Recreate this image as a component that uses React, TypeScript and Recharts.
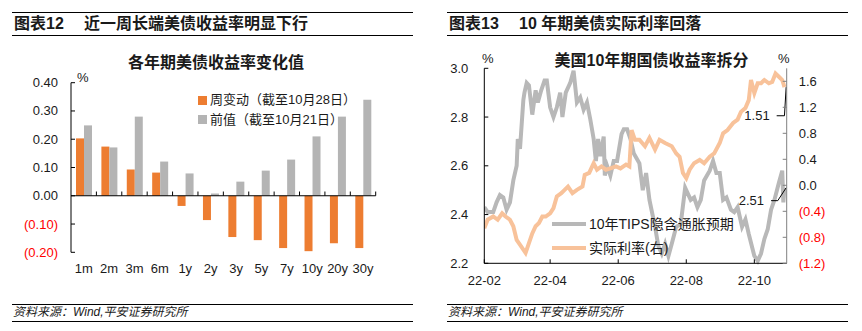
import React from "react";
import { Bar, BarChart, Line, LineChart, ReferenceLine, XAxis, YAxis } from "recharts";

const FONT = "'Liberation Sans', Arial, 'Noto Sans CJK SC', sans-serif";
const TEXT = "#1a1a1a";
const RED = "#FF0000";

// 图表12
const tenors = ["1m", "2m", "3m", "6m", "1y", "2y", "3y", "5y", "7y", "10y", "20y", "30y"];
const weeklyChange = [0.203, 0.174, 0.093, 0.082, -0.036, -0.086, -0.146, -0.157, -0.185, -0.196, -0.168, -0.185];
const priorValue = [0.249, 0.171, 0.28, 0.121, 0.079, 0.008, 0.05, 0.089, 0.128, 0.21, 0.28, 0.34];
const barTicks = [-0.2, -0.1, 0, 0.1, 0.2, 0.3, 0.4];
const barSeries = [
  { key: "change", name: "周变动（截至10月28日）", color: "#ED7D31" },
  { key: "prior", name: "前值（截至10月21日）", color: "#B4B4B4" },
];

// 图表13
const breakevenDates = [
  "2022-02-01", "2022-02-04", "2022-02-09", "2022-02-12", "2022-02-15", "2022-02-18", "2022-02-21", "2022-02-24",
  "2022-02-27", "2022-03-02", "2022-03-03", "2022-03-05", "2022-03-08", "2022-03-09", "2022-03-11", "2022-03-13",
  "2022-03-16", "2022-03-19", "2022-03-21", "2022-03-24", "2022-03-27", "2022-03-29", "2022-04-01", "2022-04-04",
  "2022-04-07", "2022-04-10", "2022-04-12", "2022-04-15", "2022-04-19", "2022-04-22", "2022-04-25", "2022-04-28",
  "2022-05-01", "2022-05-04", "2022-05-07", "2022-05-10", "2022-05-12", "2022-05-14", "2022-05-16", "2022-05-19",
  "2022-05-20", "2022-05-22", "2022-05-25", "2022-05-28", "2022-05-31", "2022-06-04", "2022-06-06", "2022-06-09",
  "2022-06-12", "2022-06-15", "2022-06-20", "2022-06-23", "2022-06-26", "2022-06-29", "2022-07-04", "2022-07-07",
  "2022-07-10", "2022-07-13", "2022-07-16", "2022-07-19", "2022-07-23", "2022-07-27", "2022-07-31", "2022-08-02",
  "2022-08-05", "2022-08-08", "2022-08-11", "2022-08-14", "2022-08-17", "2022-08-22", "2022-08-25", "2022-08-28",
  "2022-08-31", "2022-09-03", "2022-09-06", "2022-09-10", "2022-09-13", "2022-09-16", "2022-09-20", "2022-09-23",
  "2022-09-26", "2022-10-01", "2022-10-04", "2022-10-07", "2022-10-10", "2022-10-13", "2022-10-16", "2022-10-19",
  "2022-10-23", "2022-10-26", "2022-10-27", "2022-10-28",
];
const breakevenValues = [
  2.43, 2.41, 2.41, 2.45, 2.48, 2.47, 2.42, 2.45,
  2.54, 2.6, 2.71, 2.67, 2.87, 2.9, 2.94, 2.93,
  2.81, 2.91, 2.86, 2.91, 2.95, 2.95, 2.84, 2.8,
  2.84, 2.9, 2.8, 2.9, 2.94, 2.99, 2.86, 2.88,
  2.83, 2.86, 2.79, 2.71, 2.62, 2.71, 2.64, 2.72,
  2.56, 2.6, 2.56, 2.62, 2.62, 2.73, 2.75, 2.75,
  2.71, 2.65, 2.61, 2.5, 2.57, 2.46, 2.35, 2.27,
  2.24, 2.28, 2.23, 2.28, 2.35, 2.36, 2.51, 2.49,
  2.46, 2.47, 2.43, 2.46, 2.54, 2.58, 2.62, 2.57,
  2.57, 2.46, 2.47, 2.42, 2.41, 2.43, 2.35, 2.38,
  2.32, 2.23, 2.21, 2.24, 2.3, 2.34, 2.42, 2.46,
  2.53, 2.58, 2.45, 2.51,
];

const realRateDates = [
  "2022-02-01", "2022-02-04", "2022-02-09", "2022-02-13", "2022-02-17", "2022-02-20", "2022-02-24", "2022-02-27",
  "2022-03-02", "2022-03-04", "2022-03-08", "2022-03-10", "2022-03-13", "2022-03-16", "2022-03-19", "2022-03-22",
  "2022-03-25", "2022-03-28", "2022-04-01", "2022-04-04", "2022-04-07", "2022-04-11", "2022-04-14", "2022-04-17",
  "2022-04-21", "2022-04-25", "2022-04-30", "2022-05-02", "2022-05-06", "2022-05-10", "2022-05-13", "2022-05-17",
  "2022-05-21", "2022-05-25", "2022-05-30", "2022-06-03", "2022-06-08", "2022-06-11", "2022-06-13", "2022-06-16",
  "2022-06-20", "2022-06-25", "2022-06-29", "2022-07-04", "2022-07-08", "2022-07-13", "2022-07-19", "2022-07-23",
  "2022-07-26", "2022-07-29", "2022-08-01", "2022-08-04", "2022-08-08", "2022-08-13", "2022-08-17", "2022-08-22",
  "2022-08-26", "2022-08-31", "2022-09-03", "2022-09-07", "2022-09-12", "2022-09-16", "2022-09-19", "2022-09-23",
  "2022-09-26", "2022-09-28", "2022-10-01", "2022-10-04", "2022-10-07", "2022-10-10", "2022-10-14", "2022-10-17",
  "2022-10-20", "2022-10-23", "2022-10-26", "2022-10-28",
];
const realRateValues = [
  -0.66, -0.53, -0.48, -0.53, -0.43, -0.48, -0.53, -0.63,
  -0.84, -0.89, -0.99, -1.04, -0.89, -0.74, -0.63, -0.58,
  -0.48, -0.48, -0.43, -0.35, -0.17, -0.12, -0.07, -0.02,
  -0.12, -0.07, -0.02, 0.16, 0.19, 0.34, 0.24, 0.29,
  0.24, 0.26, 0.29, 0.26, 0.32, 0.29, 0.85, 0.7,
  0.7, 0.6, 0.73, 0.55, 0.7, 0.65, 0.6, 0.49,
  0.44, 0.19, 0.11, 0.24, 0.34, 0.39, 0.34, 0.44,
  0.49, 0.65, 0.8, 0.85, 0.96, 1.01, 1.13, 1.19,
  1.31, 1.62, 1.42, 1.57, 1.57, 1.62, 1.57, 1.59,
  1.72, 1.67, 1.62, 1.51,
];

const monthTickDates = ["2022-02-01", "2022-04-01", "2022-06-01", "2022-08-01", "2022-10-01"];
const monthTickLabels = ["22-02", "22-04", "22-06", "22-08", "22-10"];
const leftRateTicks = [2.2, 2.4, 2.6, 2.8, 3.0];
const rightRateTicks = [-1.2, -0.8, -0.4, 0, 0.4, 0.8, 1.2, 1.6];
const lineSeries = [
  { key: "breakeven", name: "10年TIPS隐含通胀预期", color: "#B8B8B8" },
  { key: "real", name: "实际利率(右)", color: "#F8C29A" },
];

const DAY0 = Date.parse("2022-02-01");
const dayOf = (s: string) => Math.round((Date.parse(s) - DAY0) / 86400000);

const barRows = tenors.map((t, i) => ({ tenor: t, change: weeklyChange[i], prior: priorValue[i] }));
const breakevenRows = breakevenDates.map((d, i) => ({ day: dayOf(d), value: breakevenValues[i] }));
const realRows = realRateDates.map((d, i) => ({ day: dayOf(d), value: realRateValues[i] }));
const monthTicks = monthTickDates.map(dayOf);
const lastBreakeven = breakevenRows[breakevenRows.length - 1];
const lastReal = realRows[realRows.length - 1];

const fmtParen = (v: number, digits: number) =>
  v < 0 ? `(${Math.abs(v).toFixed(digits)})` : v.toFixed(digits);

function ValueTick(props: any) {
  const { x, y, payload, textAnchor, digits } = props;
  const v = Number(payload.value);
  return (
    <text x={x} y={y} textAnchor={textAnchor} dominantBaseline="central" fontSize={13} fontFamily={FONT} fill={v < 0 ? RED : TEXT}>
      {fmtParen(v, digits)}
    </text>
  );
}

function CategoryTick(props: any) {
  const { x, y, payload, label } = props;
  return (
    <text x={x} y={y} dy="0.71em" textAnchor="middle" fontSize={13} fontFamily={FONT} fill={TEXT}>
      {label ? label(payload.value) : payload.value}
    </text>
  );
}

const abs = (left: number, top: number, extra: React.CSSProperties = {}): React.CSSProperties => ({
  position: "absolute",
  left,
  top,
  fontFamily: FONT,
  color: TEXT,
  whiteSpace: "nowrap",
  ...extra,
});

function Rule({ left, top, width }: { left: number; top: number; width: number }) {
  return <div style={{ position: "absolute", left, top, width, height: 1, background: "#000" }} />;
}

function Panel({ left, code, title }: { left: number; code: string; title: string }) {
  return (
    <>
      <Rule left={left} top={12} width={401} />
      <div style={abs(left + 2, 16, { fontSize: 16, fontWeight: 700, lineHeight: "16px" })}>{code}</div>
      <div style={abs(left + 72, 16, { fontSize: 16, fontWeight: 700, lineHeight: "16px" })}>{title}</div>
      <Rule left={left} top={35} width={401} />
      <Rule left={left} top={304} width={401} />
      <div style={abs(left + 1, 305, { fontSize: 12, fontStyle: "italic", lineHeight: "15px" })}>资料来源：Wind,平安证券研究所</div>
      <Rule left={left} top={321} width={401} />
    </>
  );
}

export default function App() {
  return (
    <div style={{ position: "absolute", left: 0, top: 0, width: 862, height: 331, background: "#fff", overflow: "hidden" }}>
      <Panel left={12} code="图表12" title="近一周长端美债收益率明显下行" />
      <Panel left={447} code="图表13" title="10 年期美债实际利率回落" />

      <div style={{ position: "absolute", left: 0, top: 0 }}>
        <BarChart width={431} height={300} data={barRows} margin={{ top: 82.7, right: 55.3, bottom: 17.7, left: 11 }} barGap={0} barSize={8}>
          <XAxis dataKey="tenor" axisLine={false} tickLine={false} tickSize={0} tickMargin={11} height={30} interval={0} tick={(p: any) => <CategoryTick {...p} />} />
          <YAxis
            domain={[-0.2, 0.4]}
            ticks={barTicks}
            width={60}
            tickSize={-4}
            tickMargin={17}
            axisLine={{ stroke: "#000" }}
            tickLine={{ stroke: "#000" }}
            tick={(p: any) => <ValueTick {...p} digits={2} />}
          />
          {barSeries.map((s) => (
            <Bar key={s.key} dataKey={s.key} name={s.name} fill={s.color} isAnimationActive={false} />
          ))}
          <ReferenceLine y={0} stroke="#000" strokeWidth={1.2} />
          {tenors.slice(1).map((t) => (
            <ReferenceLine key={t} segment={[{ x: t, y: 0 }, { x: t, y: 0.015 }]} position="start" stroke="#000" />
          ))}
          <ReferenceLine segment={[{ x: tenors[tenors.length - 1], y: 0 }, { x: tenors[tenors.length - 1], y: 0.015 }]} position="end" stroke="#000" />
        </BarChart>
      </div>
      <div style={abs(121, 54, { width: 190, textAlign: "center", fontSize: 16, fontWeight: 700, lineHeight: "18px" })}>各年期美债收益率变化值</div>
      <div style={abs(77, 70, { fontSize: 13, lineHeight: "16px" })}>%</div>
      {barSeries.map((s, i) => (
        <div key={s.key} style={abs(198, 92 + i * 19.5, { fontSize: 13, lineHeight: "16px", display: "flex", alignItems: "center" })}>
          <span style={{ display: "inline-block", width: 9, height: 9, background: s.color, marginRight: 3 }} />
          {s.name}
        </div>
      ))}

      <div style={{ position: "absolute", left: 431, top: 0 }}>
        <LineChart width={431} height={300} margin={{ top: 68.3, right: 25.3, bottom: 11.7, left: 8.3 }}>
          <XAxis
            type="number"
            dataKey="day"
            domain={[0, 271]}
            ticks={monthTicks}
            allowDataOverflow
            height={25}
            tickSize={-4}
            tickMargin={16.5}
            axisLine={{ stroke: "#000" }}
            tickLine={{ stroke: "#000" }}
            tick={(p: any) => <CategoryTick {...p} label={(v: number) => monthTickLabels[monthTicks.indexOf(v)]} />}
          />
          <YAxis
            yAxisId="l"
            domain={[2.2, 3.0]}
            ticks={leftRateTicks}
            width={45}
            tickSize={-4}
            tickMargin={20}
            axisLine={{ stroke: "#000" }}
            tickLine={{ stroke: "#000" }}
            tick={(p: any) => <ValueTick {...p} digits={1} />}
          />
          <YAxis
            yAxisId="r"
            orientation="right"
            domain={[-1.2, 1.8]}
            ticks={rightRateTicks}
            width={50}
            tickSize={-4}
            tickMargin={16}
            axisLine={{ stroke: "#808080" }}
            tickLine={{ stroke: "#808080" }}
            tick={(p: any) => <ValueTick {...p} digits={1} />}
          />
          <Line yAxisId="l" data={breakevenRows} dataKey="value" name={lineSeries[0].name} stroke={lineSeries[0].color} strokeWidth={4} dot={false} isAnimationActive={false} />
          <Line yAxisId="r" data={realRows} dataKey="value" name={lineSeries[1].name} stroke={lineSeries[1].color} strokeWidth={4} dot={false} isAnimationActive={false} />

          <ReferenceLine
            yAxisId="r"
            segment={[{ x: lastReal.day - 7, y: 1.07 }, { x: lastReal.day, y: 1.07 }]}
            stroke="#000"
            label={{ value: lastReal.value.toFixed(2), position: "left", offset: 7, fill: TEXT, fontSize: 13, fontFamily: FONT }}
          />
          <ReferenceLine yAxisId="r" segment={[{ x: lastReal.day, y: 1.07 }, { x: lastReal.day + 1.5, y: lastReal.value }]} stroke="#000" />
          <ReferenceLine
            yAxisId="l"
            segment={[{ x: lastBreakeven.day - 12, y: 2.457 }, { x: lastBreakeven.day - 6, y: 2.457 }]}
            stroke="#000"
            label={{ value: lastBreakeven.value.toFixed(2), position: "left", offset: 7, fill: TEXT, fontSize: 13, fontFamily: FONT }}
          />
          <ReferenceLine yAxisId="l" segment={[{ x: lastBreakeven.day - 6, y: 2.457 }, { x: lastBreakeven.day + 1.5, y: lastBreakeven.value }]} stroke="#000" />
        </LineChart>
      </div>
      <div style={abs(551, 52, { width: 201, textAlign: "center", fontSize: 16, fontWeight: 700, lineHeight: "18px" })}>美国10年期国债收益率拆分</div>
      <div style={abs(482, 51, { fontSize: 13, lineHeight: "16px" })}>%</div>
      <div style={abs(778, 51, { fontSize: 13, lineHeight: "16px" })}>%</div>
      {lineSeries.map((s, i) => (
        <div key={s.key} style={abs(552, 216 + i * 24, { fontSize: 14, lineHeight: "16px", display: "flex", alignItems: "center" })}>
          <span style={{ display: "inline-block", width: 34, height: 4, background: s.color, marginRight: 3 }} />
          {s.name}
        </div>
      ))}
    </div>
  );
}
